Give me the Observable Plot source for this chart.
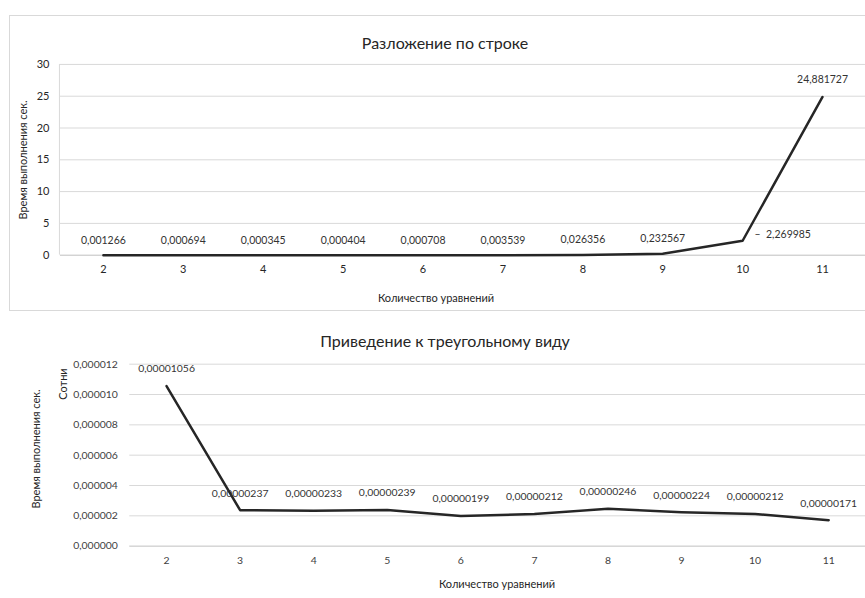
<!DOCTYPE html>
<html>
<head>
<meta charset="utf-8">
<script src="https://cdn.jsdelivr.net/npm/d3@7"></script>
<script src="https://cdn.jsdelivr.net/npm/@observablehq/plot@0.6"></script>
<style>
  html, body { margin: 0; padding: 0; background: #fff; overflow: hidden; }
  #root { position: relative; width: 865px; height: 598px; overflow: hidden; font-family: Lato, "Liberation Sans", sans-serif; }
  .abs { position: absolute; white-space: nowrap; }
  .lbl { position: absolute; white-space: nowrap; transform: translate(-50%, -50%); }
</style>
</head>
<body>
<div id="root"></div>
<script>
// ---- data ----
const equations = [2, 3, 4, 5, 6, 7, 8, 9, 10, 11];
const expansionTimes = [0.001266, 0.000694, 0.000345, 0.000404, 0.000708, 0.003539, 0.026356, 0.232567, 2.269985, 24.881727];
const triangularTimes = [0.00001056, 0.00000237, 0.00000233, 0.00000239, 0.00000199, 0.00000212, 0.00000246, 0.00000224, 0.00000212, 0.00000171];
const topYTicks = [0, 5, 10, 15, 20, 25, 30];
const bottomYTicks = [0, 0.000002, 0.000004, 0.000006, 0.000008, 0.00001, 0.000012];
const topTitle = "Разложение по строке";
const bottomTitle = "Приведение к треугольному виду";
const xTitle = "Количество уравнений";
const yTitle = "Время выполнения сек.";
const unitTitle = "Сотни";

const comma = s => String(s).replace(".", ",");
const topData = equations.map((n, i) => ({n, t: expansionTimes[i], label: comma(expansionTimes[i]), i}));
const bottomData = equations.map((n, i) => ({n, t: triangularTimes[i], label: comma(triangularTimes[i]), i}));

const root = document.getElementById("root");
const FONT = "Lato, 'Liberation Sans', sans-serif";

// ---- frame of top chart ----
const box = document.createElement("div");
box.className = "abs";
Object.assign(box.style, {left: "9px", top: "15px", width: "870px", height: "296px", border: "1px solid #d9d9d9", boxSizing: "border-box"});
root.appendChild(box);

// ---- top chart ----
const leftLine = (index, scales, values, dims) => {
  const l = document.createElementNS("http://www.w3.org/2000/svg", "line");
  l.setAttribute("x1", dims.marginLeft - 0.5); l.setAttribute("x2", dims.marginLeft - 0.5);
  l.setAttribute("y1", dims.marginTop); l.setAttribute("y2", dims.height - dims.marginBottom);
  l.setAttribute("stroke", "#d9d9d9");
  return l;
};

const chartTop = Plot.plot({
  width: 866, height: 312,
  marginLeft: 60, marginRight: 0, marginTop: 64, marginBottom: 57,
  style: {fontFamily: FONT, fontSize: "11px", color: "#262626", background: "transparent", overflow: "visible"},
  x: {type: "point", domain: equations, padding: 0.5, label: null, tickSize: 0, tickPadding: 10},
  y: {domain: [0, 30], ticks: topYTicks, label: null, tickSize: 0, tickPadding: 11},
  marks: [
    Plot.ruleY(topYTicks.filter(d => d > 0), {stroke: "#d9d9d9"}),
    Plot.ruleY([0], {stroke: "#bfbfbf"}),
    leftLine,
    Plot.line(topData, {x: "n", y: "t", stroke: "#262626", strokeWidth: 2.5}),
    Plot.text(topData.filter(d => d.i < 8), {x: "n", y: "t", text: "label", dy: -15, fill: "#333333", fontSize: 10.5}),
    Plot.text(topData.filter(d => d.i === 8), {x: "n", y: "t", text: d => "–  " + d.label, dx: 12, dy: -6, textAnchor: "start", fill: "#333333", fontSize: 10.5}),
    Plot.text(topData.filter(d => d.i === 9), {x: "n", y: "t", text: "label", dy: -17, fill: "#333333", fontSize: 10.5})
  ]
});
chartTop.style.position = "absolute"; chartTop.style.left = "0px"; chartTop.style.top = "0px";
root.appendChild(chartTop);

// ---- bottom chart ----
const chartBottom = Plot.plot({
  width: 870, height: 286,
  marginLeft: 130, marginRight: 0, marginTop: 52, marginBottom: 51,
  style: {fontFamily: FONT, fontSize: "10.5px", color: "#404040", background: "transparent", overflow: "visible"},
  x: {type: "point", domain: equations, padding: 0.5, label: null, tickSize: 0, tickPadding: 10},
  y: {domain: [0, 0.000012], ticks: bottomYTicks, tickFormat: d => comma(d3.format(".6f")(d)), label: null, tickSize: 0, tickPadding: 12},
  marks: [
    Plot.ruleY(bottomYTicks.filter(d => d > 0), {stroke: "#d9d9d9"}),
    Plot.ruleY([0], {stroke: "#bfbfbf"}),
    Plot.line(bottomData, {x: "n", y: "t", stroke: "#262626", strokeWidth: 2.5}),
    Plot.text(bottomData, {x: "n", y: "t", text: "label", dy: -17, fill: "#333333", fontSize: 10.5})
  ]
});
chartBottom.style.position = "absolute"; chartBottom.style.left = "0px"; chartBottom.style.top = "312px";
root.appendChild(chartBottom);

// ---- text labels ----
function label(text, x, y, size, color, rotate) {
  const d = document.createElement("div");
  d.className = "lbl";
  d.textContent = text;
  Object.assign(d.style, {left: x + "px", top: y + "px", fontSize: size + "px", color, fontFamily: FONT});
  if (rotate) d.style.transform = "translate(-50%, -50%) rotate(-90deg)";
  root.appendChild(d);
}
label(topTitle, 445, 42, 16, "#262626");
label(xTitle, 436, 297, 11, "#262626");
label(yTitle, 22, 160, 11, "#262626", true);
label(bottomTitle, 445, 340, 16, "#262626");
label(xTitle, 497, 583, 11, "#262626");
label(yTitle, 35, 449, 11, "#262626", true);
label(unitTitle, 62, 384, 11, "#262626", true);
</script>
</body>
</html>
